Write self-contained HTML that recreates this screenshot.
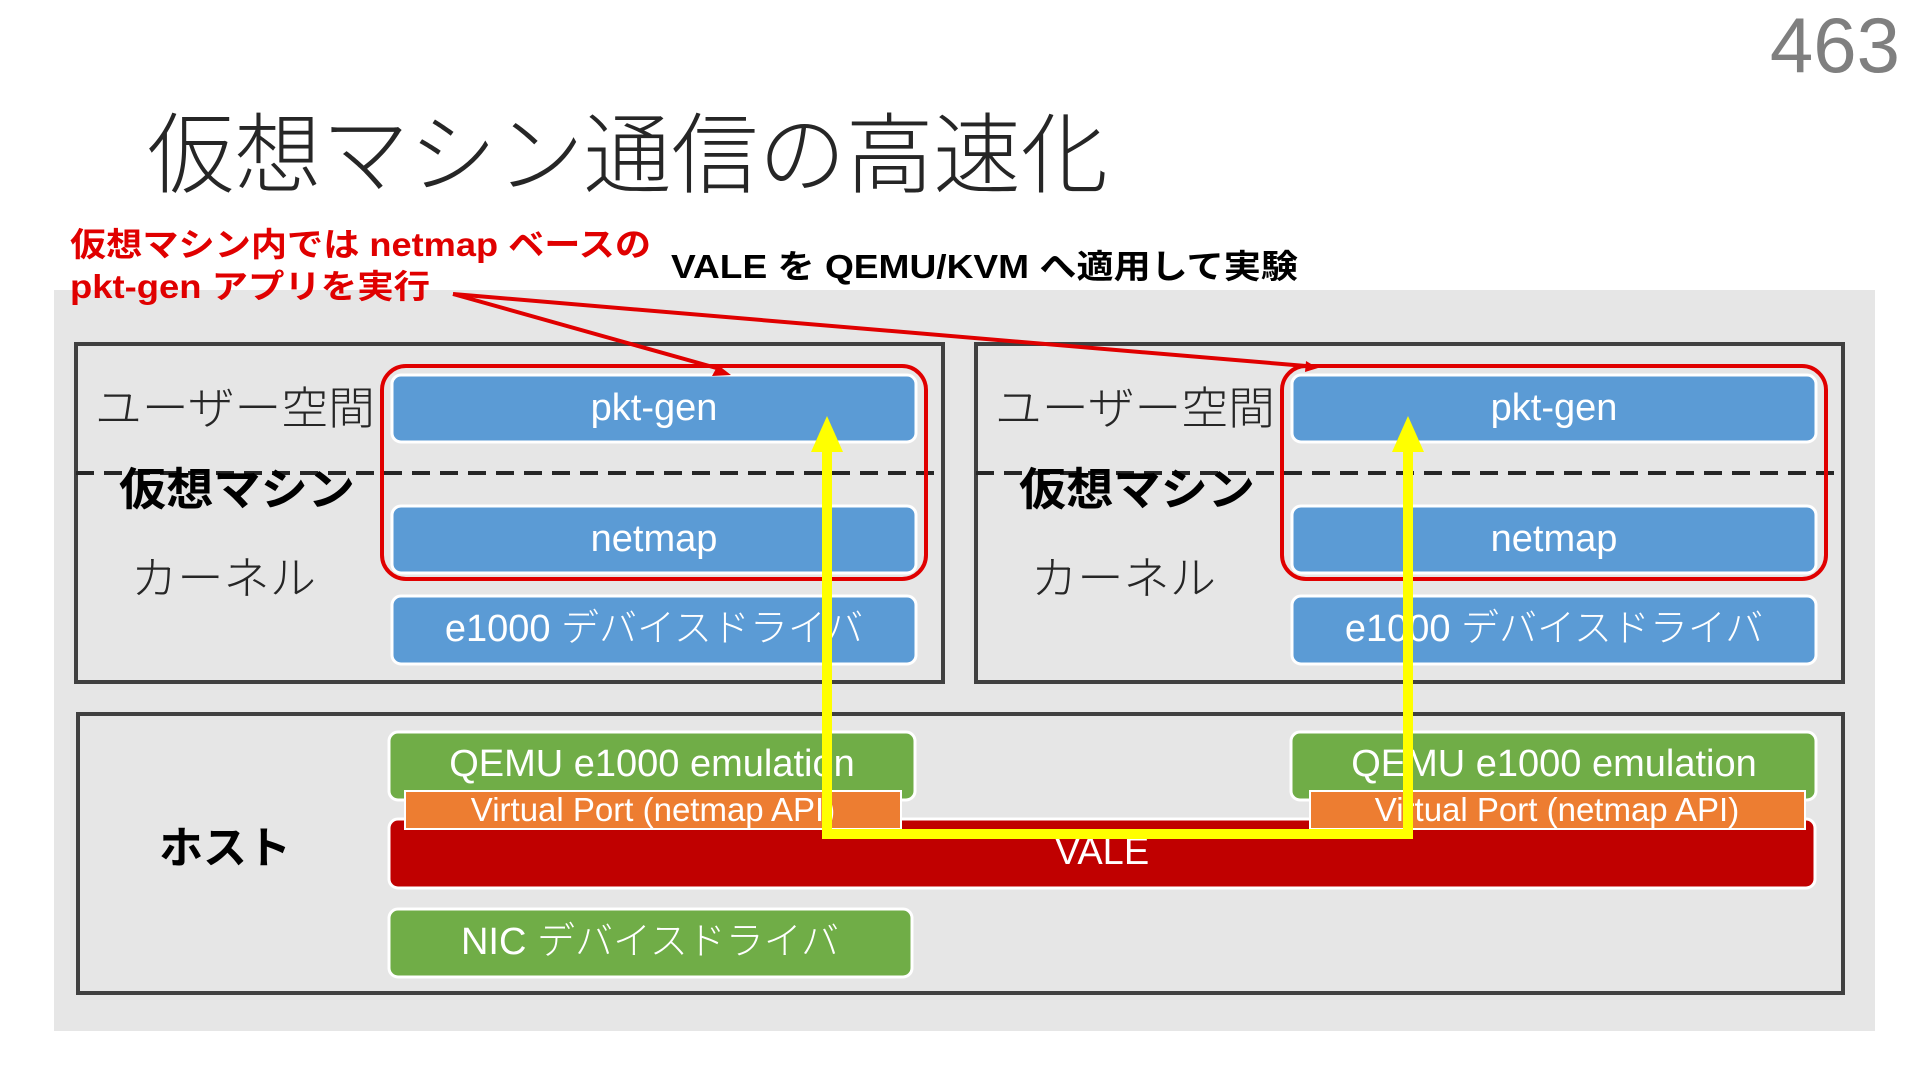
<!DOCTYPE html>
<html><head><meta charset="utf-8"><style>
html,body{margin:0;padding:0;background:#fff;}
svg{display:block;}
text{font-family:"Liberation Sans","Noto Sans CJK JP",sans-serif;}
.w{fill:#fff;font-weight:300;}
</style></head><body>
<svg width="1920" height="1080" viewBox="0 0 1920 1080" xmlns="http://www.w3.org/2000/svg">
<text x="1900" y="72" text-anchor="end" font-size="78" fill="#7f7f7f" font-weight="300">463</text>
<text x="147" y="186" font-size="88" fill="#262626" font-weight="300" textLength="961" lengthAdjust="spacingAndGlyphs">仮想マシン通信の高速化</text>
<rect x="54" y="290" width="1821" height="741" fill="#e6e6e6"/>
<text x="70" y="256" font-size="33" fill="#e00000" font-weight="bold" textLength="581" lengthAdjust="spacingAndGlyphs">仮想マシン内では netmap ベースの</text>
<text x="70" y="298" font-size="33" fill="#e00000" font-weight="bold" textLength="360" lengthAdjust="spacingAndGlyphs">pkt-gen アプリを実行</text>
<text x="671" y="278" font-size="33" fill="#000" font-weight="bold" textLength="627" lengthAdjust="spacingAndGlyphs">VALE を QEMU/KVM へ適用して実験</text>

<g id="vm">
<rect x="76" y="344" width="867" height="338" fill="none" stroke="#404040" stroke-width="4"/>
<line x1="76" y1="473" x2="943" y2="473" stroke="#262626" stroke-width="4" stroke-dasharray="18,10"/>
<rect x="392" y="375" width="524" height="67" rx="9" fill="#5b9bd5" stroke="#fff" stroke-width="3"/>
<text x="654" y="420" text-anchor="middle" font-size="38" class="w">pkt-gen</text>
<rect x="392" y="506" width="524" height="67" rx="9" fill="#5b9bd5" stroke="#fff" stroke-width="3"/>
<text x="654" y="551" text-anchor="middle" font-size="38" class="w">netmap</text>
<rect x="392" y="596" width="524" height="68" rx="9" fill="#5b9bd5" stroke="#fff" stroke-width="3"/>
<text x="654" y="641" text-anchor="middle" font-size="38" class="w">e1000 デバイスドライバ</text>
<rect x="382" y="366" width="544" height="213" rx="24" fill="none" stroke="#e00000" stroke-width="4"/>
<text x="95" y="424" font-size="45" fill="#262626" font-weight="300" textLength="280" lengthAdjust="spacingAndGlyphs">ユーザー空間</text>
<text x="119" y="505" font-size="45" fill="#000" font-weight="bold" textLength="236" lengthAdjust="spacingAndGlyphs">仮想マシン</text>
<text x="131" y="594" font-size="45" fill="#262626" font-weight="300" textLength="185" lengthAdjust="spacingAndGlyphs">カーネル</text>
</g>
<use href="#vm" transform="translate(900,0)"/>

<rect x="78" y="714" width="1765" height="279" fill="none" stroke="#404040" stroke-width="4"/>
<text x="159" y="863" font-size="44" fill="#000" font-weight="bold">ホスト</text>
<rect x="389" y="732" width="526" height="68" rx="9" fill="#70ad47" stroke="#fff" stroke-width="3"/>
<text x="652" y="776" text-anchor="middle" font-size="38" class="w">QEMU e1000 emulation</text>
<rect x="1291" y="732" width="525" height="68" rx="9" fill="#70ad47" stroke="#fff" stroke-width="3"/>
<text x="1554" y="776" text-anchor="middle" font-size="38" class="w">QEMU e1000 emulation</text>
<rect x="389" y="819" width="1426" height="69" rx="9" fill="#c00000" stroke="#fff" stroke-width="3"/>
<text x="1102" y="864" text-anchor="middle" font-size="38" class="w">VALE</text>
<rect x="405" y="791" width="496" height="38" fill="#ed7d31" stroke="#fff" stroke-width="2"/>
<text x="653" y="821" text-anchor="middle" font-size="33" class="w">Virtual Port (netmap API)</text>
<rect x="1310" y="791" width="495" height="38" fill="#ed7d31" stroke="#fff" stroke-width="2"/>
<text x="1557" y="821" text-anchor="middle" font-size="33" class="w">Virtual Port (netmap API)</text>
<rect x="389" y="909" width="523" height="68" rx="9" fill="#70ad47" stroke="#fff" stroke-width="3"/>
<text x="650" y="954" text-anchor="middle" font-size="38" class="w">NIC デバイスドライバ</text>

<polyline points="827,450 827,834 1408,834 1408,450" fill="none" stroke="#ffff00" stroke-width="10"/>
<polygon points="827,416 811,452 843,452" fill="#ffff00"/>
<polygon points="1408,416 1392,452 1424,452" fill="#ffff00"/>

<g stroke="#e00000" stroke-width="4" fill="#e00000">
<line x1="453" y1="294" x2="720" y2="369"/>
<line x1="453" y1="294" x2="1306" y2="366"/>
</g>
<polygon points="731,375 712,376 718,365" fill="#e00000"/>
<polygon points="1318,368 1305,372 1306,361" fill="#e00000"/>
</svg>
</body></html>
